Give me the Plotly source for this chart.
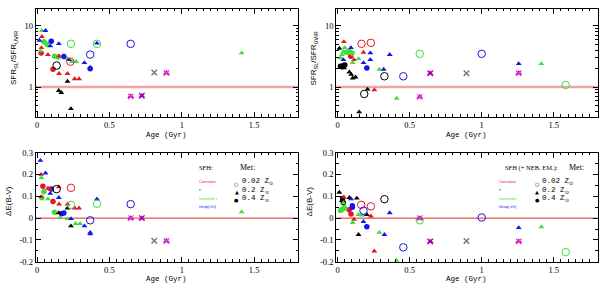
import plotly.graph_objects as go

# ---------------- DATA ----------------
# SFH codes: C=Constant (red), T=tau (black), I=Inverted tau (green), E=t/exp(-t/tau) (blue)
# special: P=purple triangle+x, M=magenta triangle+x, X=grey cross
# metallicity: 0.02, 0.2, 0.4 Zsun (0 = none)

# top-left: SFR ratio (SFH)
tl_age = [0.033, 0.058, 0.033, 0.016, 0.047, 0.068, 0.098, 0.091, 0.15, 0.234, 0.414, 0.414, 0.647,
          0.03, 0.023, 0.028, 0.075, 0.12, 0.145, 0.152, 0.185, 0.21, 0.24, 0.27, 0.22, 0.23,
          0.367, 0.327, 0.367, 0.367, 0.135, 0.11, 0.152, 0.21, 0.26, 0.29, 0.21, 0.15, 0.168,
          0.234, 0.647, 0.724, 0.81, 0.894, 1.414]
tl_val = [8.4, 8.4, 6.7, 5.8, 5.5, 5.0, 5.6, 4.7, 5.1, 5.1, 5.1, 5.2, 5.1,
          4.4, 3.9, 3.6, 3.4, 3.2, 3.1, 3.2, 3.15, 2.9, 2.6, 2.6, 2.8, 2.6,
          3.4, 2.5, 2.0, 2.1, 2.25, 1.95, 1.66, 1.66, 1.36, 1.36, 1.24, 0.875, 0.81,
          0.44, 0.70, 0.72, 1.73, 1.7, 3.6]
tl_sfh = ['I', 'E', 'C', 'E', 'I', 'I', 'E', 'E', 'E', 'I', 'I', 'E', 'E',
          'C', 'I', 'C', 'C', 'I', 'I', 'C', 'E', 'I', 'I', 'I', 'E', 'C',
          'E', 'E', 'E', 'E', 'T', 'C', 'C', 'C', 'C', 'C', 'T', 'T', 'T',
          'T', 'P', 'M', 'X', 'P', 'I']
tl_met = [0.2, 0.2, 0.2, 0.2, 0.4, 0.4, 0.4, 0.2, 0.2, 0.02, 0.02, 0.2, 0.02,
          0.2, 0.2, 0.4, 0.2, 0.4, 0.4, 0.2, 0.4, 0.2, 0.2, 0.2, 0.2, 0.02,
          0.02, 0.2, 0.4, 0.2, 0.02, 0.4, 0.2, 0.2, 0.2, 0.2, 0.2, 0.2, 0.2,
          0.2, 0, 0, 0, 0, 0.2]

# top-right: SFR ratio (SFH + nebular emission)
tr_age = [0.044, 0.166, 0.231, 0.012, 0.05, 0.093, 0.04, 0.03, 0.02, 0.06, 0.075, 0.1, 0.08,
          0.18, 0.227, 0.362, 0.57, 0.091, 0.114, 0.227, 0.18, 0.145, 0.105, 0.04,
          0.02, 0.03, 0.04, 0.05, 0.025, 0.045, 0.203, 0.29, 0.32, 0.082, 0.095, 0.105, 0.125,
          0.325, 0.456, 0.643, 0.208, 0.255, 0.185, 0.41, 0.57, 0.15,
          1.0, 1.257, 1.414, 0.894, 1.257, 1.583]
tr_val = [5.5, 5.1, 5.3, 4.3, 4.4, 4.4, 3.8, 3.4, 3.0, 3.7, 3.8, 3.6, 3.8,
          3.7, 3.6, 3.4, 3.5, 3.2, 2.8, 2.8, 2.5, 2.9, 2.5, 2.8,
          2.2, 2.15, 2.25, 2.3, 2.1, 2.05, 2.05, 1.95, 1.95, 1.75, 1.6, 1.4, 1.45,
          1.5, 1.5, 1.68, 0.92, 0.9, 0.77, 0.65, 0.69, 0.39,
          3.5, 2.4, 2.4, 1.68, 1.68, 1.08]
tr_sfh = ['C', 'C', 'C', 'T', 'I', 'E', 'I', 'I', 'I', 'I', 'I', 'I', 'C',
          'C', 'E', 'E', 'I', 'C', 'C', 'E', 'E', 'I', 'I', 'E',
          'T', 'T', 'T', 'T', 'T', 'T', 'E', 'I', 'E', 'T', 'T', 'T', 'T',
          'T', 'E', 'M', 'T', 'C', 'T', 'I', 'P', 'T',
          'E', 'E', 'I', 'X', 'P', 'I']
tr_met = [0.2, 0.02, 0.02, 0.2, 0.2, 0.2, 0.2, 0.2, 0.2, 0.4, 0.4, 0.4, 0.4,
          0.2, 0.2, 0.2, 0.02, 0.4, 0.2, 0.2, 0.2, 0.2, 0.2, 0.2,
          0.4, 0.4, 0.4, 0.4, 0.2, 0.2, 0.4, 0.2, 0.2, 0.2, 0.2, 0.2, 0.2,
          0.02, 0.02, 0, 0.2, 0.2, 0.02, 0.2, 0, 0.2,
          0.02, 0.2, 0.2, 0, 0, 0.02]

# bottom-left: Delta E(B-V) (SFH)
bl_age = [0.023, 0.028, 0.058, 0.03, 0.04, 0.075, 0.09, 0.098, 0.15, 0.135, 0.234, 0.047,
          0.028, 0.033, 0.091, 0.075, 0.11, 0.15, 0.152, 0.21, 0.26, 0.29, 0.12, 0.15,
          0.185, 0.17, 0.234, 0.21, 0.157, 0.21, 0.266, 0.297, 0.234, 0.234, 0.327,
          0.367, 0.367, 0.367, 0.414, 0.414, 0.647, 0.647, 0.724, 0.81, 0.894, 1.414]
bl_val = [0.264, 0.2, 0.206, 0.185, 0.146, 0.136, 0.133, 0.133, 0.143, 0.133, 0.139, 0.121,
          0.098, 0.094, 0.113, 0.088, 0.076, 0.094, 0.064, 0.064, 0.046, 0.046, 0.027, 0.024,
          0.024, 0.02, 0.061, 0.046, 0.0015, -0.003, -0.025, -0.025, -0.036, -0.003, -0.036,
          -0.066, -0.073, -0.01, 0.087, 0.066, 0.064, 0.0, 0.0, -0.104, -0.105, 0.028]
bl_sfh = ['E', 'C', 'E', 'I', 'C', 'C', 'C', 'E', 'C', 'T', 'C', 'I',
          'C', 'I', 'E', 'I', 'C', 'E', 'C', 'C', 'C', 'C', 'I', 'T',
          'E', 'E', 'I', 'T', 'I', 'I', 'I', 'I', 'T', 'E', 'E',
          'E', 'E', 'E', 'E', 'I', 'E', 'P', 'M', 'X', 'P', 'I']
bl_met = [0.2, 0.2, 0.2, 0.2, 0.4, 0.2, 0.2, 0.4, 0.2, 0.02, 0.02, 0.4,
          0.2, 0.4, 0.2, 0.2, 0.4, 0.2, 0.2, 0.2, 0.2, 0.2, 0.4, 0.2,
          0.4, 0.4, 0.02, 0.2, 0.2, 0.2, 0.2, 0.2, 0.2, 0.2, 0.2,
          0.2, 0.2, 0.02, 0.2, 0.02, 0.02, 0, 0, 0, 0, 0.2]

# bottom-right: Delta E(B-V) (SFH + nebular emission)
br_age = [0.012, 0.03, 0.04, 0.035, 0.044, 0.082, 0.093, 0.133, 0.103, 0.103,
          0.02, 0.03, 0.045, 0.055, 0.04, 0.164, 0.231, 0.325, 0.18, 0.362,
          0.08, 0.093, 0.145, 0.168, 0.203, 0.231, 0.114, 0.105, 0.18, 0.203,
          0.145, 0.29, 0.325, 0.456, 0.255, 0.41, 0.57, 0.57, 0.643,
          1.0, 1.257, 1.414, 0.894, 1.257, 1.583]
br_val = [0.118, 0.08, 0.07, 0.09, 0.096, 0.094, 0.088, 0.091, 0.057, 0.05,
          0.035, 0.04, 0.045, 0.05, 0.07, 0.061, 0.054, 0.087, 0.034, 0.024,
          0.039, 0.019, 0.016, 0.013, 0.016, 0.009, -0.006, -0.021, -0.016, -0.04,
          -0.076, -0.066, -0.076, -0.134, -0.151, -0.195, 0.0, -0.01, -0.107,
          0.003, -0.044, -0.04, -0.105, -0.107, -0.156]
br_sfh = ['T', 'T', 'T', 'T', 'C', 'T', 'E', 'T', 'E', 'E',
          'I', 'I', 'I', 'I', 'I', 'C', 'C', 'T', 'E', 'E',
          'C', 'C', 'I', 'I', 'T', 'C', 'C', 'I', 'E', 'E',
          'T', 'I', 'E', 'E', 'C', 'I', 'P', 'I', 'M',
          'E', 'E', 'I', 'X', 'P', 'I']
br_met = [0.2, 0.2, 0.4, 0.4, 0.2, 0.2, 0.2, 0.2, 0.4, 0.4,
          0.4, 0.4, 0.4, 0.2, 0.2, 0.02, 0.02, 0.02, 0.02, 0.2,
          0.4, 0.4, 0.2, 0.2, 0.2, 0.2, 0.2, 0.2, 0.2, 0.4,
          0.2, 0.2, 0.2, 0.02, 0.2, 0.2, 0, 0.02, 0,
          0.02, 0.2, 0.2, 0, 0, 0.02]

sfh_labels = ["Constant", "\u03c4", "Inverted \u03c4", "t/exp(-t/\u03c4)"]
met_labels = ["0.02 Z<sub>\u2299</sub>", "0.2 Z<sub>\u2299</sub>", "0.4 Z<sub>\u2299</sub>"]

# ---------------- STYLE ----------------
COL = {'C': '#e8161c', 'T': '#000000', 'I': '#3ede3e', 'E': '#1414ee'}
SYM = {0.02: ('circle-open', 7.5), 0.2: ('triangle-up', 5.2), 0.4: ('circle', 5.5)}

fig = go.Figure()

XR = [-0.01, 1.805]
# reference lines (ratio = 1, DeltaE = 0), drawn first so markers sit on top
for xa, ya, yv, col, w in [('x', 'y', 1, '#f6a2a2', 2.5), ('x2', 'y2', 1, '#f6a2a2', 2.5),
                           ('x3', 'y3', 0, '#e82a2a', 1), ('x4', 'y4', 0, '#e82a2a', 1)]:
    fig.add_trace(go.Scatter(x=XR, y=[yv, yv], mode='lines', xaxis=xa, yaxis=ya, showlegend=False,
                             line=dict(color=col, width=w), hoverinfo='skip'))

panels = [
    (tl_age, tl_val, tl_sfh, tl_met, 'x', 'y'),
    (tr_age, tr_val, tr_sfh, tr_met, 'x2', 'y2'),
    (bl_age, bl_val, bl_sfh, bl_met, 'x3', 'y3'),
    (br_age, br_val, br_sfh, br_met, 'x4', 'y4'),
]

for ages, vals, sfhs, mets, xa, ya in panels:
    for met in [0.4, 0.2, 0.02]:
        for s in ['C', 'T', 'I', 'E']:
            xs = [a for a, v, f, m in zip(ages, vals, sfhs, mets) if f == s and m == met]
            ys = [v for a, v, f, m in zip(ages, vals, sfhs, mets) if f == s and m == met]
            if not xs:
                continue
            sym, sz = SYM[met]
            fig.add_trace(go.Scatter(
                x=xs, y=ys, mode='markers', xaxis=xa, yaxis=ya, showlegend=False,
                marker=dict(symbol=sym, size=sz, color=COL[s],
                            line=dict(width=1.0 if met == 0.02 else 0, color=COL[s]))))
    for s, tcol, xcol in [('P', '#7400cc', '#ff3cc0'), ('M', '#ff1a9c', '#8a00c0')]:
        xs = [a for a, f in zip(ages, sfhs) if f == s]
        ys = [v for v, f in zip(vals, sfhs) if f == s]
        if xs:
            fig.add_trace(go.Scatter(x=xs, y=ys, mode='markers', xaxis=xa, yaxis=ya, showlegend=False,
                                     marker=dict(symbol='triangle-up', size=6, color=tcol)))
            fig.add_trace(go.Scatter(x=xs, y=ys, mode='markers', xaxis=xa, yaxis=ya, showlegend=False,
                                     marker=dict(symbol='x-thin-open', size=5.5, color=xcol,
                                                 line=dict(width=1.2, color=xcol))))
    xs = [a for a, f in zip(ages, sfhs) if f == 'X']
    ys = [v for v, f in zip(vals, sfhs) if f == 'X']
    if xs:
        fig.add_trace(go.Scatter(x=xs, y=ys, mode='markers', xaxis=xa, yaxis=ya, showlegend=False,
                                 marker=dict(symbol='x-thin-open', size=5.5, color='#8a6a8e',
                                             line=dict(width=1.5, color='#8a6a8e'))))

TICKF = dict(family='Liberation Serif', size=8.5, color='black')
xcommon = dict(range=XR, tickvals=[0, 0.5, 1, 1.5], ticktext=['0', '0.5', '1', '1.5'],
               ticks='inside', ticklen=5, tickcolor='black', showline=True, linecolor='black',
               linewidth=1, mirror='ticks', showgrid=False, zeroline=False, tickfont=TICKF,
               minor=dict(ticks='inside', dtick=0.05, ticklen=2.5, tickcolor='black', showgrid=False))
ylog = dict(type='log', range=[-0.49, 1.28], tickvals=[1, 10], ticktext=['1', '10'],
            ticks='inside', ticklen=5, tickcolor='black', showline=True, linecolor='black',
            linewidth=1, mirror='ticks', showgrid=False, zeroline=False, tickfont=TICKF,
            minor=dict(ticks='inside', tickvals=[0.4, 0.5, 0.6, 0.7, 0.8, 0.9, 2, 3, 4, 5, 6, 7, 8, 9],
                       ticklen=2.5, tickcolor='black', showgrid=False))
ylin = dict(range=[-0.2, 0.3], tickvals=[-0.2, -0.1, 0, 0.1, 0.2, 0.3],
            ticktext=['-0.2', '-0.1', '0', '0.1', '0.2', '0.3'],
            ticks='inside', ticklen=5, tickcolor='black', showline=True, linecolor='black',
            linewidth=1, mirror='ticks', showgrid=False, zeroline=False, tickfont=TICKF,
            minor=dict(ticks='inside', dtick=0.05, ticklen=2.5, tickcolor='black', showgrid=False))

LD = [34.7 / 600, 297.7 / 600]
RD = [335.7 / 600, 597.7 / 600]
TD = [1 - 116 / 288, 1 - 4 / 288]
BD = [1 - 266 / 288, 1 - 153 / 288]

fig.update_layout(
    width=600, height=288, margin=dict(l=0, r=0, t=0, b=0),
    paper_bgcolor='white', plot_bgcolor='white', showlegend=False,
    xaxis=dict(domain=LD, anchor='y', **xcommon),
    yaxis=dict(domain=TD, anchor='x', **ylog),
    xaxis2=dict(domain=RD, anchor='y2', **xcommon),
    yaxis2=dict(domain=TD, anchor='x2', **ylog),
    xaxis3=dict(domain=LD, anchor='y3', **xcommon),
    yaxis3=dict(domain=BD, anchor='x3', **ylin),
    xaxis4=dict(domain=RD, anchor='y4', **xcommon),
    yaxis4=dict(domain=BD, anchor='x4', **ylin),
)

ann = []
MONO = 'Liberation Mono'
SERIF = 'Liberation Serif'
for cx in [(LD[0] + LD[1]) / 2, (RD[0] + RD[1]) / 2]:
    ann.append(dict(x=cx, y=1 - 134.5 / 288, text='Age (Gyr)', font=dict(family=MONO, size=7.5, color='black')))
    ann.append(dict(x=cx, y=1 - 283.5 / 288, text='Age (Gyr)', font=dict(family=MONO, size=7.5, color='black')))
for lx in [13 / 600, 314 / 600]:
    ann.append(dict(x=lx, y=1 - 55 / 288, text='SFR<sub>SL</sub>/SFR<sub>UVIR</sub>', textangle=-90,
                    font=dict(family='Liberation Sans', size=8, color='black')))
for lx in [8 / 600, 309 / 600]:
    ann.append(dict(x=lx, y=1 - 203 / 288, text='\u0394E(B-V)', textangle=-90,
                    font=dict(family='Liberation Sans', size=8, color='black')))


def legend(sfh_title, tx, mx, sx, ox):
    ann.append(dict(x=tx / 600, y=1 - 168.5 / 288, xanchor='left', text=sfh_title,
                    font=dict(family=SERIF, size=6.5, color='black')))
    ann.append(dict(x=mx / 600, y=1 - 168.5 / 288, xanchor='left', text='Met:',
                    font=dict(family=SERIF, size=8, color='black')))
    for lab, col, yy in zip(sfh_labels, ['#e8161c', '#000000', '#3ede3e', '#1414ee'],
                            [182.7, 191, 200.5, 209]):
        ann.append(dict(x=sx / 600, y=1 - yy / 288, xanchor='left', text=lab,
                        font=dict(family='Liberation Sans', size=4.2, color=col)))
    for lab, sym, yy in zip(met_labels, ['\u25cb', '\u25b2', '\u25cf'], [183.5, 192.5, 201]):
        ann.append(dict(x=ox / 600, y=1 - (yy + 1.5) / 288, xanchor='center', text=sym,
                        font=dict(family='DejaVu Sans', size=5, color='black')))
        ann.append(dict(x=(ox + 3) / 600, y=1 - yy / 288, xanchor='left', text=lab,
                        font=dict(family=MONO, size=7.5, color='black')))


legend('SFH:', 196.5, 237, 196.5, 236)
legend('SFH (+ NEB. EM.):', 502.5, 566.5, 496.7, 537.3)

for a in ann:
    a.setdefault('xref', 'paper')
    a.setdefault('yref', 'paper')
    a.setdefault('showarrow', False)
    a.setdefault('xanchor', 'center')
    a.setdefault('yanchor', 'middle')
fig.update_layout(annotations=ann)

# remove the browser's default 8px body margin so the figure sits at the window's corner
fig.write_html('out.html', config={'displayModeBar': False},
               post_script="document.body.style.margin='0px';")
